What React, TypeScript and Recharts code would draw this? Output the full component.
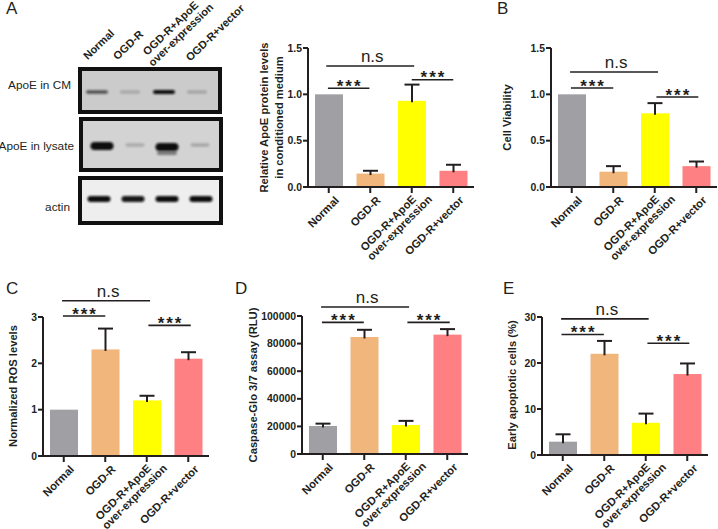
import React from "react";
import { BarChart, Bar, XAxis, YAxis, ReferenceLine } from "recharts";

const FONT = "'Liberation Sans', Arial, sans-serif";
const INK = "#231f20";

const categories = ["Normal", "OGD-R", "OGD-R+ApoE|over-expression", "OGD-R+vector"];
const barColors = ["#a09fa4", "#f0b67c", "#ffff00", "#ff8082"];

const valuesA = [1.0, 0.145, 0.93, 0.175];
const topsA = [1.0, 0.175, 1.105, 0.24];
const valuesB = [1.0, 0.165, 0.795, 0.225];
const topsB = [1.0, 0.225, 0.905, 0.275];
const valuesC = [1.0, 2.3, 1.2, 2.1];
const topsC = [1.0, 2.75, 1.3, 2.24];
const valuesD = [20300, 84800, 21000, 86500];
const topsD = [22000, 90000, 24000, 90500];
const valuesE = [2.9, 22, 7, 17.6];
const topsE = [4.5, 24.8, 9, 19.9];

const ticksA = [0, 0.5, 1, 1.5];
const ticksB = [0, 0.5, 1, 1.5];
const ticksC = [0, 1, 2, 3];
const ticksD = [0, 20000, 40000, 60000, 80000, 100000];
const ticksE = [0, 10, 20, 30];

// [from, to, level, text] — from/to in category bands along the x axis (0.5 = centre of first band)
type Sig = [number, number, number, string];
const sigA: Sig[] = [
  [0.48, 1.48, 1.065, "***"],
  [0.44, 2.56, 1.306, "n.s"],
  [2.5, 3.5, 1.158, "***"],
];
const sigB: Sig[] = [
  [0.48, 1.5, 1.068, "***"],
  [0.46, 2.58, 1.241, "n.s"],
  [2.54, 3.55, 0.971, "***"],
];
const sigC: Sig[] = [
  [0.48, 1.5, 3.02, "***"],
  [0.46, 2.58, 3.35, "n.s"],
  [2.54, 3.56, 2.82, "***"],
];
const sigD: Sig[] = [
  [0.48, 1.49, 95400, "***"],
  [0.46, 2.58, 106500, "n.s"],
  [2.54, 3.56, 95400, "***"],
];
const sigE: Sig[] = [
  [0.47, 1.49, 26.2, "***"],
  [0.46, 2.57, 29.6, "n.s"],
  [2.54, 3.55, 24.3, "***"],
];

const MARGIN_L = 60;
const MARGIN_T = 40;

function BarWithError(props: any) {
  const { x, y, width, height, payload, fill } = props;
  const scale = payload.value > 0 ? height / payload.value : 0;
  const errPx = (payload.top - payload.value) * scale;
  const cx = x + width / 2;
  return (
    <g>
      <rect x={x} y={y} width={width} height={height} fill={fill} />
      {errPx > 0 && (
        <g stroke={INK} strokeWidth={2} fill="none">
          <line x1={cx} x2={cx} y1={y + 1.5} y2={y - errPx} />
          <line x1={cx - 7.5} x2={cx + 7.5} y1={y - errPx} y2={y - errPx} />
        </g>
      )}
    </g>
  );
}

const tickStyle = { fontFamily: FONT, fontSize: 11.2, fontWeight: 700, fill: INK };

function CategoryTick(props: any) {
  const { x, y, payload } = props;
  const lines = String(payload.value).split("|");
  if (lines.length === 1) {
    const ex = x + 11;
    const ey = y + 6;
    return (
      <text x={ex} y={ey} textAnchor="end" transform={`rotate(-45 ${ex} ${ey})`} {...tickStyle}>
        {lines[0]}
      </text>
    );
  }
  const ex1 = x + 5;
  const ey1 = y + 5;
  const ex2 = x + 21;
  const ey2 = y + 5;
  return (
    <g>
      <text x={ex1} y={ey1} textAnchor="end" transform={`rotate(-45 ${ex1} ${ey1})`} {...tickStyle}>
        {lines[0]}
      </text>
      <text x={ex2} y={ey2} textAnchor="end" transform={`rotate(-45 ${ex2} ${ey2})`} {...tickStyle}>
        {lines[1]}
      </text>
    </g>
  );
}

// Bracket drawn from the library's own segment ends; a and b refine the ends inside their bands.
function bracketShape(a: number, b: number, text: string) {
  return (p: any) => {
    const ia = Math.round(a - 0.5);
    const ib = Math.round(b - 0.5);
    const band = (p.x2 - p.x1) / (ib - ia);
    const xa = p.x1 + (a - 0.5 - ia) * band;
    const xb = p.x2 + (b - 0.5 - ib) * band;
    const y = p.y1;
    const cx = (xa + xb) / 2;
    return (
      <g>
        <line x1={xa} x2={xb} y1={y} y2={y} stroke={INK} strokeWidth={1.6} />
        {text === "n.s" ? (
          <text x={cx + 2} y={y - 4} textAnchor="middle" fontFamily={FONT} fontSize={17} fill={INK}>
            n.s
          </text>
        ) : (
          <text
            x={cx + 1}
            y={y + 3.5}
            textAnchor="middle"
            fontFamily={FONT}
            fontSize={17}
            fontWeight={700}
            letterSpacing={2}
            fill={INK}
          >
            ***
          </text>
        )}
      </g>
    );
  };
}

type PanelProps = {
  axisX: number;
  topY: number;
  plotH: number;
  values: number[];
  tops: number[];
  ticks: number[];
  sig: Sig[];
  titles: string[];
  titleX: number[];
  titleCY: number;
  fmt?: (v: number) => string;
};

function Panel({ axisX, topY, plotH, values, tops, ticks, sig, titles, titleX, titleCY, fmt }: PanelProps) {
  const plotW = 166;
  const marginR = 4;
  const marginB = 86;
  const data = categories.map((name, i) => ({ name, value: values[i], top: tops[i], fill: barColors[i] }));
  const maxV = ticks[ticks.length - 1];
  return (
    <div style={{ position: "absolute", left: axisX - MARGIN_L, top: topY - MARGIN_T }}>
      <BarChart
        width={MARGIN_L + plotW + marginR}
        height={MARGIN_T + plotH + marginB}
        data={data}
        margin={{ left: 0, right: marginR, top: MARGIN_T, bottom: 0 }}
      >
        <XAxis
          dataKey="name"
          height={marginB}
          interval={0}
          tick={CategoryTick}
          tickSize={6}
          axisLine={{ stroke: INK, strokeWidth: 2 }}
          tickLine={{ stroke: INK, strokeWidth: 2 }}
        />
        <YAxis
          width={MARGIN_L}
          domain={[0, maxV]}
          ticks={ticks}
          interval={0}
          tickSize={5}
          tickMargin={1}
          tickFormatter={fmt}
          axisLine={{ stroke: INK, strokeWidth: 2 }}
          tickLine={{ stroke: INK, strokeWidth: 2 }}
          tick={{ fontFamily: FONT, fontSize: 10.4, fontWeight: 700, fill: INK }}
        />
        <Bar dataKey="value" barSize={28} isAnimationActive={false} shape={BarWithError} />
        {sig.map(([a, b, lvl, text], i) => (
          <ReferenceLine
            key={i}
            segment={[
              { x: categories[Math.round(a - 0.5)], y: lvl },
              { x: categories[Math.round(b - 0.5)], y: lvl },
            ]}
            ifOverflow="visible"
            shape={bracketShape(a, b, text)}
          />
        ))}
        {titles.map((t, i) => {
          const tx = titleX[i] - (axisX - MARGIN_L);
          const ty = titleCY - (topY - MARGIN_T);
          return (
            <text
              key={t}
              x={tx}
              y={ty}
              textAnchor="middle"
              dominantBaseline="central"
              transform={`rotate(-90 ${tx} ${ty})`}
              fontFamily={FONT}
              fontSize={11.2}
              fontWeight={700}
              fill={INK}
            >
              {t}
            </text>
          );
        })}
      </BarChart>
    </div>
  );
}

const blotFrames = [
  { x: 78, y: 67, w: 144, h: 47, bg: "#cbcbcb" },
  { x: 79, y: 117, w: 144, h: 55, bg: "#d3d3d3" },
  { x: 78, y: 176, w: 145, h: 49, bg: "#eeeeee" },
];
// [centerX, centerY, width, height, opacity]
const blotBands: number[][] = [
  [97, 92, 22, 3.5, 0.65],
  [130, 92, 20, 3, 0.2],
  [164, 92, 22, 4, 1],
  [197, 92, 20, 3, 0.22],
  [102, 146, 23, 8, 1],
  [135, 145, 19, 3.5, 0.2],
  [167, 147, 23, 8, 1],
  [167, 153, 20, 4, 0.45],
  [200, 145, 19, 3.5, 0.22],
  [99, 199, 23, 6, 1],
  [133, 199, 23, 6, 0.95],
  [167, 199, 23, 6, 1],
  [201, 199, 23, 6, 1],
];
const blotRows = [
  { label: "ApoE in CM", x: 71, y: 89 },
  { label: "ApoE in lysate", x: 74, y: 150 },
  { label: "actin", x: 70, y: 211 },
];
const blotHeads = [
  { label: "Normal", x: 115, y: 34 },
  { label: "OGD-R", x: 144, y: 35 },
  { label: "OGD-R+ApoE", x: 199, y: 6 },
  { label: "over-expression", x: 214, y: 8 },
  { label: "OGD-R+vector", x: 245, y: 9 },
];
const panelLetters = [
  { t: "A", x: 6, y: 14 },
  { t: "B", x: 497, y: 14 },
  { t: "C", x: 6, y: 294 },
  { t: "D", x: 235, y: 294 },
  { t: "E", x: 503, y: 294 },
];

function Blot() {
  return (
    <svg width={718} height={529} style={{ position: "absolute", left: 0, top: 0 }}>
      <defs>
        <filter id="soft" x="-20%" y="-80%" width="140%" height="260%">
          <feGaussianBlur stdDeviation="0.8" />
        </filter>
      </defs>
      {blotFrames.map((f, i) => (
        <rect
          key={i}
          x={f.x + 2}
          y={f.y + 2}
          width={f.w - 4}
          height={f.h - 4}
          fill={f.bg}
          stroke="#111111"
          strokeWidth={4}
        />
      ))}
      {blotBands.map(([cx, cy, w, h, o], i) => (
        <rect
          key={i}
          x={cx - w / 2}
          y={cy - h / 2}
          width={w}
          height={h}
          rx={h / 2}
          fill="#0c0c0c"
          opacity={o}
          filter="url(#soft)"
        />
      ))}
      {blotRows.map((r) => (
        <text key={r.label} x={r.x} y={r.y} textAnchor="end" fontFamily={FONT} fontSize={11.8} fill={INK}>
          {r.label}
        </text>
      ))}
      {blotHeads.map((h) => (
        <text
          key={h.label}
          x={h.x}
          y={h.y}
          textAnchor="end"
          transform={`rotate(-44 ${h.x} ${h.y})`}
          fontFamily={FONT}
          fontSize={11}
          fontWeight={700}
          fill={INK}
        >
          {h.label}
        </text>
      ))}
      {panelLetters.map((l) => (
        <text key={l.t} x={l.x} y={l.y} fontFamily={FONT} fontSize={17} fill={INK}>
          {l.t}
        </text>
      ))}
    </svg>
  );
}

const fmtOne = (v: number) => v.toFixed(1);
const fmtInt = (v: number) => String(v);

export default function App() {
  return (
    <div
      style={{
        position: "absolute",
        left: 0,
        top: 0,
        width: 718,
        height: 529,
        overflow: "hidden",
        background: "#ffffff",
      }}
    >
      <Blot />
      <Panel axisX={308} topY={48} plotH={139} values={valuesA} tops={topsA} ticks={ticksA} sig={sigA}
        titles={["Relative ApoE protein levels", "in conditioned medium"]} titleX={[264, 279]} titleCY={117.5} fmt={fmtOne} />
      <Panel axisX={551} topY={48} plotH={139} values={valuesB} tops={topsB} ticks={ticksB} sig={sigB}
        titles={["Cell Viability"]} titleX={[507]} titleCY={117.5} fmt={fmtOne} />
      <Panel axisX={43} topY={317} plotH={139} values={valuesC} tops={topsC} ticks={ticksC} sig={sigC}
        titles={["Normalized ROS levels"]} titleX={[13]} titleCY={386} fmt={fmtInt} />
      <Panel axisX={302} topY={316} plotH={138} values={valuesD} tops={topsD} ticks={ticksD} sig={sigD}
        titles={["Caspase-Glo 3/7 assay (RLU)"]} titleX={[253]} titleCY={385} fmt={fmtInt} />
      <Panel axisX={542} topY={317} plotH={138} values={valuesE} tops={topsE} ticks={ticksE} sig={sigE}
        titles={["Early apoptotic cells (%)"]} titleX={[512]} titleCY={385} fmt={fmtInt} />
    </div>
  );
}
